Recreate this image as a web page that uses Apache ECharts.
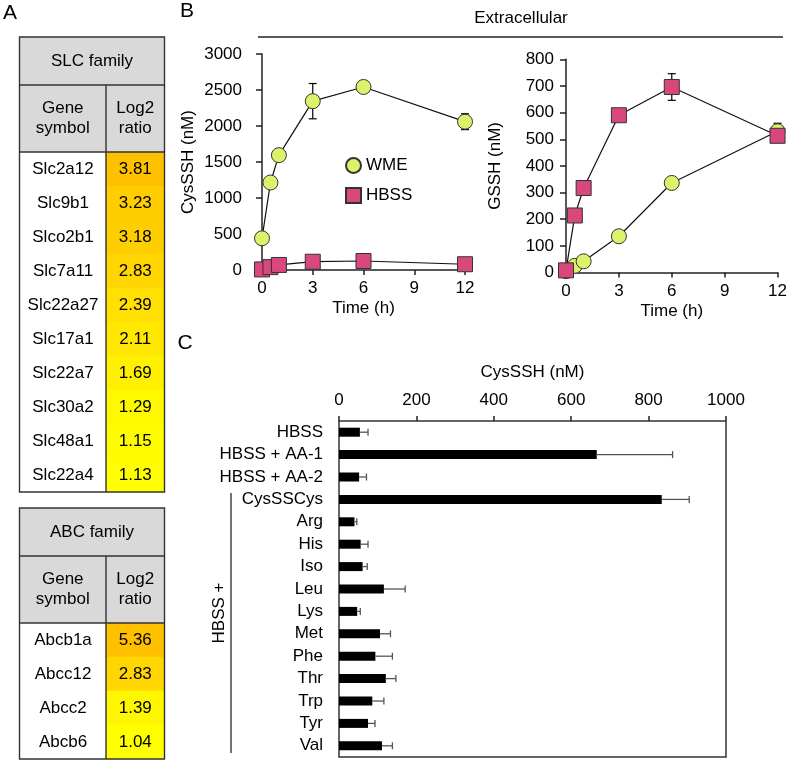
<!DOCTYPE html>
<html>
<head>
<meta charset="utf-8">
<script src="https://cdn.jsdelivr.net/npm/echarts@6/dist/echarts.min.js"></script>
<style>
html,body{margin:0;padding:0;background:#fff;}
#c{width:790px;height:761px;}
</style>
</head>
<body>
<div id="c"></div>
<script>
// ---------- Data ----------
const slcGenes = ['Slc2a12','Slc9b1','Slco2b1','Slc7a11','Slc22a27','Slc17a1','Slc22a7','Slc30a2','Slc48a1','Slc22a4'];
const slcLog2 = [3.81,3.23,3.18,2.83,2.39,2.11,1.69,1.29,1.15,1.13];
const abcGenes = ['Abcb1a','Abcc12','Abcc2','Abcb6'];
const abcLog2 = [5.36,2.83,1.39,1.04];

const timeH = [0,0.5,1,3,6,12];
const cysWME = [440,1215,1595,2345,2542,2060];
const cysWMEerr = [0,0,0,245,80,110];
const cysHBSS = [8,40,70,115,125,80];
const cysHBSSerr = [0,0,0,0,0,0];
const gsshWME = [5,25,42,136,336,530];
const gsshWMEerr = [0,0,0,0,0,30];
const gsshHBSS = [8,214,317,590,696,513];
const gsshHBSSerr = [0,0,0,0,50,15];

const barCats = ['HBSS','HBSS + AA-1','HBSS + AA-2','CysSSCys','Arg','His','Iso','Leu','Lys','Met','Phe','Thr','Trp','Tyr','Val'];
const barVals = [54,666,52,834,40,56,61,116,47,106,94,121,86,75,111];
const barErr  = [21,196,19,71,6,19,12,55,8,27,44,26,30,18,27];

const timeTicks = {min:0,max:12,interval:3};
const cysTicks = {min:0,max:3000,interval:500};
const gsshTicks = {min:0,max:800,interval:100};
const barTicks = {min:0,max:1000,interval:200};

// ---------- Style ----------
const FONT = "'Liberation Sans', Arial, sans-serif";
const FS = 17;
const AX = '#222';
const WME_COLOR = '#DCF26A';
const HBSS_COLOR = '#D9487C';
const plain = v => String(v);

const chart = echarts.init(document.getElementById('c'), null, {renderer:'canvas'});

function pairs(xs, ys){ return xs.map((x,i)=>[x, ys[i]]); }
function triples(xs, ys, es){ return xs.map((x,i)=>[x, ys[i], es[i]]); }

function vErr(params, api){
  const x = api.value(0), y = api.value(1), e = api.value(2);
  if (!e) return null;
  const t = api.coord([x, y + e]);
  const b = api.coord([x, y - e]);
  const w = 4;
  const st = {stroke:'#000', lineWidth:1.2};
  return {type:'group', children:[
    {type:'line', shape:{x1:t[0],y1:t[1],x2:b[0],y2:b[1]}, style:st},
    {type:'line', shape:{x1:t[0]-w,y1:t[1],x2:t[0]+w,y2:t[1]}, style:st},
    {type:'line', shape:{x1:b[0]-w,y1:b[1],x2:b[0]+w,y2:b[1]}, style:st}
  ]};
}
function hErr(params, api){
  const v = api.value(0), c = api.value(1), e = api.value(2);
  const s = api.coord([v, c]);
  const t = api.coord([v + e, c]);
  const h = 3.5;
  const st = {stroke:'#555', lineWidth:1.3};
  return {type:'group', children:[
    {type:'line', shape:{x1:s[0],y1:s[1],x2:t[0],y2:t[1]}, style:st},
    {type:'line', shape:{x1:t[0],y1:t[1]-h,x2:t[0],y2:t[1]+h}, style:st}
  ]};
}

function valueAxisX(gi, ticks, name, extra){
  return Object.assign({
    type:'value', gridIndex:gi, min:ticks.min, max:ticks.max, interval:ticks.interval,
    name:name, nameLocation:'middle', nameGap:30,
    nameTextStyle:{fontSize:FS, color:'#000', fontFamily:FONT},
    axisLine:{show:true, onZero:false, lineStyle:{color:AX, width:1.5}},
    axisTick:{show:true, inside:false, length:5, lineStyle:{color:AX, width:1.5}},
    axisLabel:{fontSize:FS, color:'#000', fontFamily:FONT, margin:10, formatter:plain},
    splitLine:{show:false}
  }, extra||{});
}
function valueAxisY(gi, ticks, name, gap, margin){
  return {
    type:'value', gridIndex:gi, min:ticks.min, max:ticks.max, interval:ticks.interval,
    name:name, nameLocation:'middle', nameGap:gap, nameRotate:90,
    nameTextStyle:{fontSize:FS, color:'#000', fontFamily:FONT},
    axisLine:{show:true, onZero:false, lineStyle:{color:AX, width:1.5}},
    axisTick:{show:true, inside:false, length:6, lineStyle:{color:AX, width:1.5}},
    axisLabel:{fontSize:FS, color:'#000', fontFamily:FONT, margin:margin, formatter:plain},
    splitLine:{show:false}
  };
}
function tableYAxis(gi, genes){
  return {
    type:'category', gridIndex:gi, data:genes, inverse:true,
    axisLine:{show:false}, axisTick:{show:false}, splitLine:{show:false},
    axisLabel:{align:'center', margin:43, fontSize:FS, color:'#000', fontFamily:FONT}
  };
}
function tableXAxis(gi){
  return {type:'category', gridIndex:gi, data:['Log2 ratio'], show:false};
}
function heat(gi, vals){
  return {
    type:'heatmap', xAxisIndex:gi, yAxisIndex:gi,
    data: vals.map((v,i)=>[0,i,v]),
    itemStyle:{borderWidth:0},
    label:{show:true, formatter:p=>p.value[2].toFixed(2), fontSize:FS, color:'#000', fontFamily:FONT},
    emphasis:{disabled:true}
  };
}

const lineCommon = (name, sym, color) => ({
  type:'line', name:name, symbol:sym, symbolSize:15, showSymbol:true,
  itemStyle:{color:color, borderColor:'#333', borderWidth:1},
  lineStyle:{color:'#111', width:1.2},
  emphasis:{disabled:true}, z:3
});

// ---------- Table graphics ----------
function tableGraphics(top, h1, h2, rows, title){
  const L = 19.5, R = 164.5, D = 106, rowH = 34;
  const bottom = top + h1 + h2 + rows*rowH;
  const g = [];
  const bd = {stroke:'#333', lineWidth:1.4, fill:null};
  g.push({type:'rect', shape:{x:L,y:top,width:R-L,height:h1+h2}, style:{fill:'#D9D9D9'}, z:1});
  g.push({type:'text', style:{text:title, x:(L+R)/2, y:top+h1/2, align:'center', verticalAlign:'middle', font:FS+'px '+FONT, fill:'#000'}, z:5});
  g.push({type:'text', style:{text:'Gene\nsymbol', x:(L+D)/2, y:top+h1+h2/2, align:'center', verticalAlign:'middle', font:FS+'px '+FONT, fill:'#000', lineHeight:20}, z:5});
  g.push({type:'text', style:{text:'Log2\nratio', x:(D+R)/2, y:top+h1+h2/2, align:'center', verticalAlign:'middle', font:FS+'px '+FONT, fill:'#000', lineHeight:20}, z:5});
  g.push({type:'rect', shape:{x:L,y:top,width:R-L,height:bottom-top}, style:bd, z:10});
  g.push({type:'line', shape:{x1:L,y1:top+h1,x2:R,y2:top+h1}, style:{stroke:'#333',lineWidth:1.4}, z:10});
  g.push({type:'line', shape:{x1:L,y1:top+h1+h2,x2:R,y2:top+h1+h2}, style:{stroke:'#333',lineWidth:1.4}, z:10});
  g.push({type:'line', shape:{x1:D,y1:top+h1,x2:D,y2:bottom}, style:{stroke:'#333',lineWidth:1.4}, z:10});
  return g;
}

const graphics = [].concat(
  tableGraphics(37, 48, 67, slcGenes.length, 'SLC family'),
  tableGraphics(508, 48, 67, abcGenes.length, 'ABC family'),
  [
    {type:'text', style:{text:'A', x:10, y:13, align:'center', verticalAlign:'middle', font:'21px '+FONT, fill:'#000'}},
    {type:'text', style:{text:'B', x:187, y:11, align:'center', verticalAlign:'middle', font:'21px '+FONT, fill:'#000'}},
    {type:'text', style:{text:'C', x:185, y:343, align:'center', verticalAlign:'middle', font:'21px '+FONT, fill:'#000'}},
    {type:'text', style:{text:'Extracellular', x:521, y:18, align:'center', verticalAlign:'middle', font:FS+'px '+FONT, fill:'#000'}},
    {type:'line', shape:{x1:258,y1:37,x2:783,y2:37}, style:{stroke:'#222', lineWidth:1.5}},
    {type:'line', shape:{x1:231,y1:493,x2:231,y2:753}, style:{stroke:'#444', lineWidth:1.5}},
    {type:'text', rotation:Math.PI/2, x:219, y:613, style:{text:'HBSS +', x:0, y:0, align:'center', verticalAlign:'middle', font:FS+'px '+FONT, fill:'#000'}}
  ]
);

const option = {
  animation:false,
  backgroundColor:'#fff',
  textStyle:{fontFamily:FONT},
  grid:[
    {left:106, top:152, width:58.5, height:slcGenes.length*34, containLabel:false},
    {left:106, top:623, width:58.5, height:abcGenes.length*34, containLabel:false},
    {left:262, top:54, width:203, height:216, containLabel:false},
    {left:566, top:59.3, width:213, height:213.2, containLabel:false},
    {left:339, top:421, width:387, height:336, containLabel:false, show:true, borderColor:'#333', borderWidth:1.5, backgroundColor:'transparent'}
  ],
  visualMap:[{type:'continuous', show:false, min:1.04, max:3.81, seriesIndex:[0,1], dimension:2, inRange:{color:['#FFFF00','#FFC000']}}],
  legend:{
    show:true, orient:'vertical', left:340, top:152, itemWidth:15, itemHeight:15, itemGap:13,
    textStyle:{fontSize:FS, color:'#000', fontFamily:FONT},
    data:[{name:'WME', icon:'circle'},{name:'HBSS', icon:'rect'}],
    selectedMode:false
  },
  xAxis:[
    tableXAxis(0), tableXAxis(1),
    valueAxisX(2, timeTicks, 'Time (h)'),
    valueAxisX(3, timeTicks, 'Time (h)'),
    valueAxisX(4, barTicks, 'CysSSH (nM)', {position:'top', nameGap:40, axisLine:{show:false}, axisLabel:{fontSize:FS, color:'#000', fontFamily:FONT, margin:12, formatter:plain}})
  ],
  yAxis:[
    tableYAxis(0, slcGenes), tableYAxis(1, abcGenes),
    valueAxisY(2, cysTicks, 'CysSSH (nM)', 65, 20),
    valueAxisY(3, gsshTicks, 'GSSH (nM)', 62, 12),
    {type:'category', gridIndex:4, data:barCats, inverse:true,
     axisLine:{show:false}, axisTick:{show:false}, splitLine:{show:false},
     axisLabel:{fontSize:FS, color:'#000', fontFamily:FONT, margin:16}}
  ],
  series:[
    heat(0, slcLog2),
    heat(1, abcLog2),
    Object.assign(lineCommon('WME','circle',WME_COLOR), {xAxisIndex:2, yAxisIndex:2, data:pairs(timeH, cysWME)}),
    Object.assign(lineCommon('HBSS','rect',HBSS_COLOR), {xAxisIndex:2, yAxisIndex:2, data:pairs(timeH, cysHBSS)}),
    {type:'custom', xAxisIndex:2, yAxisIndex:2, data:triples(timeH, cysWME, cysWMEerr), encode:{x:0,y:1}, renderItem:vErr, z:1, silent:true},
    {type:'custom', xAxisIndex:2, yAxisIndex:2, data:triples(timeH, cysHBSS, cysHBSSerr), encode:{x:0,y:1}, renderItem:vErr, z:1, silent:true},
    Object.assign(lineCommon('WME','circle',WME_COLOR), {xAxisIndex:3, yAxisIndex:3, data:pairs(timeH, gsshWME)}),
    Object.assign(lineCommon('HBSS','rect',HBSS_COLOR), {xAxisIndex:3, yAxisIndex:3, data:pairs(timeH, gsshHBSS)}),
    {type:'custom', xAxisIndex:3, yAxisIndex:3, data:triples(timeH, gsshWME, gsshWMEerr), encode:{x:0,y:1}, renderItem:vErr, z:1, silent:true},
    {type:'custom', xAxisIndex:3, yAxisIndex:3, data:triples(timeH, gsshHBSS, gsshHBSSerr), encode:{x:0,y:1}, renderItem:vErr, z:1, silent:true},
    {type:'bar', xAxisIndex:4, yAxisIndex:4, data:barVals, barWidth:9, itemStyle:{color:'#000'}, emphasis:{disabled:true}},
    {type:'custom', xAxisIndex:4, yAxisIndex:4, data:barVals.map((v,i)=>[v,i,barErr[i]]), encode:{x:0,y:1}, renderItem:hErr, z:3, silent:true}
  ],
  graphic:{elements:graphics}
};
chart.setOption(option);
</script>
</body>
</html>
